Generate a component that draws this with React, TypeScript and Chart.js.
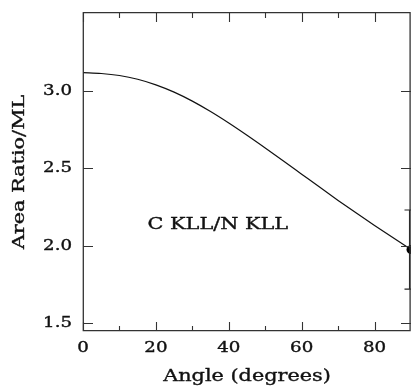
import React, { useEffect, useRef } from 'react';
import { Chart, registerables } from 'chart.js';

Chart.register(...registerables);

// Theoretical curve: area ratio vs. emission angle
const angles = [0, 5, 10, 15, 20, 25, 30, 35, 40, 45, 50, 55, 60, 65, 70, 75, 80, 85, 90];
const ratio = [3.115, 3.11, 3.097, 3.073, 3.037, 2.99, 2.932, 2.865, 2.791, 2.712, 2.63, 2.546, 2.461, 2.376, 2.292, 2.21, 2.13, 2.052, 1.975];

// Measured point with error bar
const measAngle = [90];
const measRatio = [1.975];
const measLow = [1.72];
const measHigh = [2.23];

// Axes
const xMin = 0;
const xMax = 90;
const yMin = 1.45;
const yMax = 3.5;
const xMajorTicks = [0, 20, 40, 60, 80];
const xMajorLabels = ['0', '20', '40', '60', '80'];
const xMinorTicks = [10, 30, 50, 70];
const yMajorTicks = [1.5, 2.0, 2.5, 3.0];
const yMajorLabels = ['1.5', '2.0', '2.5', '3.0'];

const xTitle = 'Angle (degrees)';
const yTitle = 'Area Ratio/ML';
const noteText = 'C KLL/N KLL';
const notePos = [37, 2.132];

const FONT = '"DejaVu Serif", serif';
const STRETCH = 1.3;
const INK = '#111';

function drawText(
  ctx: CanvasRenderingContext2D,
  text: string,
  x: number,
  y: number,
  size: number,
  align: CanvasTextAlign,
  rotate = 0
) {
  ctx.save();
  ctx.translate(x, y);
  if (rotate) ctx.rotate(rotate);
  ctx.scale(STRETCH, 1);
  ctx.font = `${size}px ${FONT}`;
  ctx.fillStyle = INK;
  ctx.strokeStyle = INK;
  ctx.lineWidth = 0.35;
  ctx.textAlign = align;
  ctx.textBaseline = 'middle';
  ctx.fillText(text, 0, 0);
  ctx.strokeText(text, 0, 0);
  ctx.restore();
}

const framePlugin = {
  id: 'framePlugin',
  beforeDatasetsDraw(chart: any) {
    const ctx: CanvasRenderingContext2D = chart.ctx;
    const xs = chart.scales.x;
    const ys = chart.scales.y;
    ctx.save();
    ctx.strokeStyle = '#222';
    ctx.lineWidth = 1.1;
    for (let i = 0; i < measAngle.length; i++) {
      const px = xs.getPixelForValue(measAngle[i]) - 1.5;
      const pLo = ys.getPixelForValue(measLow[i]);
      const pHi = ys.getPixelForValue(measHigh[i]);
      ctx.beginPath();
      ctx.moveTo(px, pLo);
      ctx.lineTo(px, pHi);
      ctx.moveTo(px - 5, pLo);
      ctx.lineTo(px + 5, pLo);
      ctx.moveTo(px - 5, pHi);
      ctx.lineTo(px + 5, pHi);
      ctx.stroke();
    }
    ctx.restore();
  },
  afterDraw(chart: any) {
    const ctx: CanvasRenderingContext2D = chart.ctx;
    const { left, right, top, bottom } = chart.chartArea;
    const xs = chart.scales.x;
    const ys = chart.scales.y;
    ctx.save();
    ctx.strokeStyle = '#333';
    ctx.lineWidth = 1.3;
    ctx.beginPath();
    ctx.rect(left + 0.3, top - 0.3, right - left - 1.2, bottom - top);
    ctx.stroke();

    ctx.lineWidth = 1.1;
    ctx.beginPath();
    const majLen = 9;
    const minLen = 5;
    xMajorTicks.forEach((v) => {
      const px = Math.round(xs.getPixelForValue(v)) + 0.5;
      ctx.moveTo(px, bottom);
      ctx.lineTo(px, bottom - majLen);
      ctx.moveTo(px, top);
      ctx.lineTo(px, top + majLen);
    });
    xMinorTicks.forEach((v) => {
      const px = Math.round(xs.getPixelForValue(v)) + 0.5;
      ctx.moveTo(px, bottom);
      ctx.lineTo(px, bottom - minLen);
      ctx.moveTo(px, top);
      ctx.lineTo(px, top + minLen);
    });
    yMajorTicks.forEach((v) => {
      const py = Math.round(ys.getPixelForValue(v)) + 0.5;
      ctx.moveTo(left, py);
      ctx.lineTo(left + majLen + 1, py);
      ctx.moveTo(right, py);
      ctx.lineTo(right - majLen - 1, py);
    });
    ctx.stroke();
    ctx.restore();

    // tick labels
    xMajorTicks.forEach((v, i) => {
      drawText(ctx, xMajorLabels[i], xs.getPixelForValue(v), bottom + 17, 14, 'center');
    });
    yMajorTicks.forEach((v, i) => {
      drawText(ctx, yMajorLabels[i], 72, ys.getPixelForValue(v) + 0.5, 14, 'right');
    });

    // axis titles
    drawText(ctx, xTitle, (left + right) / 2, bottom + 46, 16, 'center');
    drawText(ctx, yTitle, 20, (top + bottom) / 2, 16, 'center', -Math.PI / 2);

    // annotation
    drawText(
      ctx,
      noteText,
      xs.getPixelForValue(notePos[0]),
      ys.getPixelForValue(notePos[1]),
      16,
      'center'
    );
  },
};

export default function App() {
  const canvasRef = useRef<HTMLCanvasElement | null>(null);

  useEffect(() => {
    if (!canvasRef.current) return;
    const chart = new Chart(canvasRef.current, {
      type: 'scatter',
      data: {
        datasets: [
          {
            data: angles.map((a, i) => ({ x: a, y: ratio[i] })),
            showLine: true,
            borderColor: '#111',
            borderWidth: 1.2,
            pointRadius: 0,
            cubicInterpolationMode: 'monotone',
            fill: false,
          },
          {
            data: measAngle.map((a, i) => ({ x: a, y: measRatio[i] })),
            showLine: false,
            pointRadius: 4.5,
            pointBackgroundColor: '#000',
            pointBorderColor: '#000',
            pointBorderWidth: 0,
            clip: false as any,
          },
        ],
      },
      options: {
        animation: false,
        responsive: false,
        events: [],
        layout: { autoPadding: false, padding: { left: 83, right: 0, top: 13, bottom: 59 } },
        plugins: {
          legend: { display: false },
          tooltip: { enabled: false },
        },
        scales: {
          x: { type: 'linear', min: xMin, max: xMax, display: false },
          y: { type: 'linear', min: yMin, max: yMax, display: false },
        },
      },
      plugins: [framePlugin],
    });
    return () => chart.destroy();
  }, []);

  return (
    <div style={{ position: 'absolute', left: 0, top: 0, width: 411, height: 390, background: '#fff' }}>
      <canvas ref={canvasRef} width={411} height={390} style={{ display: 'block' }} />
    </div>
  );
}
